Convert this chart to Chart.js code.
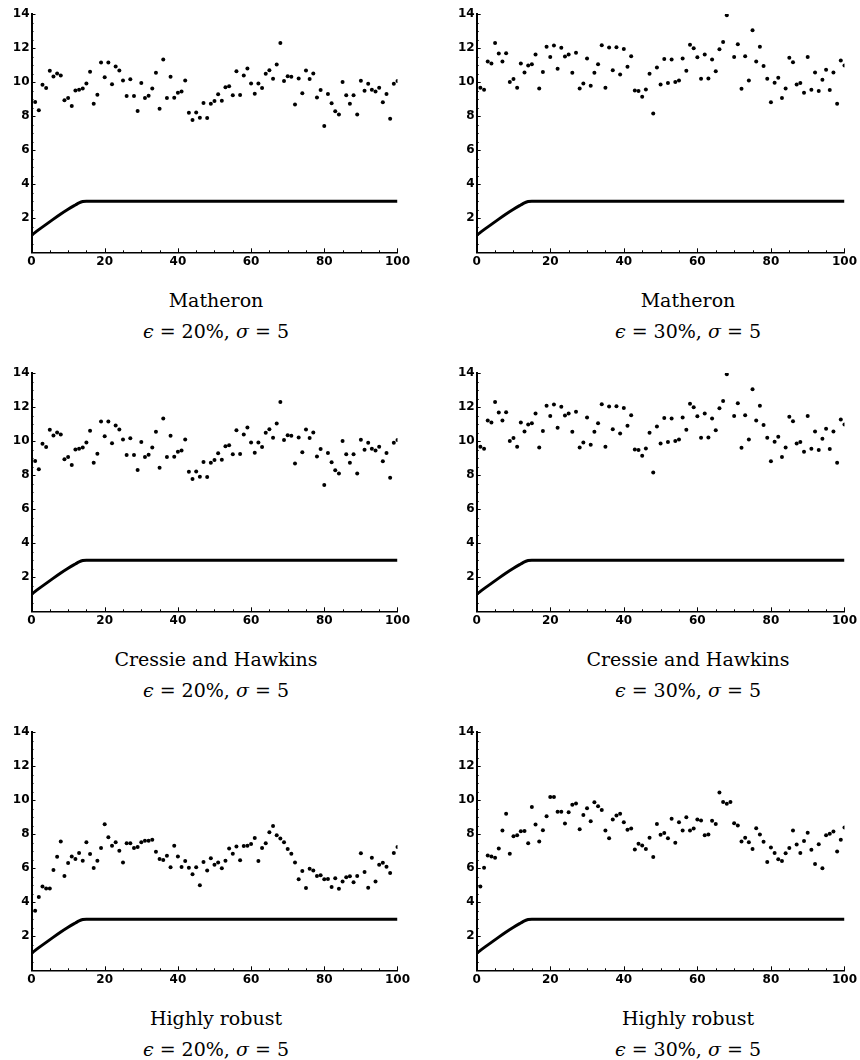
<!DOCTYPE html>
<html>
<head>
<meta charset="utf-8">
<script src="https://cdn.jsdelivr.net/npm/chart.js@4.4.1/dist/chart.umd.min.js"></script>
<style>
body { margin: 0; background: #fff; width: 860px; height: 1060px; position: relative; overflow: hidden; }
canvas { position: absolute; }
.cap { position: absolute; width: 420px; text-align: center; font-family: "DejaVu Serif", serif; font-size: 19px; line-height: 31px; color: #000; }
</style>
</head>
<body>
<script>
// lag values (x) and the fitted variogram curve
const lags = Array.from({length: 100}, (_, i) => i + 1);
const curveLag = [0, 2, 4, 6, 8, 10, 12, 13, 14, 15, 100];
const curveGamma = [1.0, 1.33, 1.64, 1.95, 2.25, 2.53, 2.78, 2.9, 2.98, 3.0, 3.0];

// empirical variogram estimates, one value per lag 1..100
const classic20 = [8.83, 8.34, 9.84, 9.65, 10.66, 10.33, 10.5, 10.39, 8.93, 9.06,
  8.59, 9.51, 9.55, 9.63, 9.92, 10.6, 8.73, 9.26, 11.15, 10.29,
  11.15, 9.88, 10.92, 10.68, 10.1, 9.18, 10.16, 9.18, 8.3, 9.94,
  9.06, 9.2, 9.63, 10.55, 8.44, 11.33, 9.06, 10.31, 9.08, 9.38,
  9.45, 10.1, 8.2, 7.77, 8.22, 7.91, 8.77, 7.89, 8.73, 8.89,
  9.28, 8.91, 9.69, 9.75, 9.22, 10.64, 9.24, 10.39, 10.8, 9.92,
  9.32, 9.92, 9.65, 10.49, 10.7, 10.2, 11.04, 12.3, 10.06, 10.35,
  10.31, 8.69, 10.21, 9.34, 10.68, 10.18, 10.51, 9.1, 9.53, 7.42,
  9.3, 8.75, 8.28, 8.09, 10.0, 9.22, 8.73, 9.22, 8.09, 10.08,
  9.49, 9.9, 9.55, 9.45, 9.67, 8.81, 9.3, 7.85, 9.9, 10.06];
const classic30 = [9.67, 9.55, 11.21, 11.09, 12.3, 11.68, 11.21, 11.7, 10.0, 10.18,
  9.67, 11.09, 10.57, 10.98, 11.05, 11.62, 9.63, 10.59, 12.07, 11.48,
  12.15, 10.78, 12.01, 11.5, 11.62, 10.55, 11.72, 9.63, 9.92, 11.39,
  9.79, 10.55, 11.05, 12.17, 9.67, 12.03, 10.7, 12.05, 10.45, 11.95,
  10.9, 11.52, 9.51, 9.47, 9.14, 9.57, 10.49, 8.16, 10.86, 9.86,
  11.35, 9.94, 11.33, 10.0, 10.1, 11.39, 10.66, 12.2, 11.99, 11.46,
  10.2, 11.62, 10.21, 11.33, 10.64, 11.93, 12.36, 13.93, null, 11.48,
  12.23, 9.61, 11.52, 10.1, 13.05, 11.21, 12.07, 10.94, 10.2, 8.81,
  9.96, 10.25, 9.06, 9.63, 11.43, 11.17, 9.86, 9.94, 9.38, 11.48,
  9.55, 10.57, 9.47, 10.14, 10.72, 9.53, 10.57, 8.73, 11.27, 10.98];
const robust20 = [3.5, 4.3, 4.92, 4.81, 4.81, 5.89, 6.67, 7.57, 5.54, 6.3,
  6.69, 6.54, 6.89, 6.44, 7.53, 6.83, 6.01, 6.44, 7.18, 8.58,
  7.82, 7.32, 7.53, 7.02, 6.34, 7.47, 7.47, 7.18, 7.24, 7.53,
  7.61, 7.61, 7.67, 6.96, 6.54, 6.48, 6.73, 6.05, 7.32, 6.69,
  6.07, 6.42, 6.03, 5.64, 6.05, 5.0, 6.36, 5.87, 6.59, 6.2,
  6.34, 5.99, 6.44, 7.16, 6.85, 7.28, 6.46, 7.3, 7.32, 7.42,
  7.77, 6.42, 7.18, 7.47, 8.11, 8.48, 7.94, 7.75, 7.53, 7.12,
  6.85, 6.34, 5.35, 5.84, 4.83, 5.97, 5.86, 5.54, 5.58, 5.35,
  5.37, 4.9, 5.41, 4.79, 5.21, 5.47, 5.52, 5.17, 5.54, 6.87,
  5.78, 4.85, 6.61, 5.21, 6.2, 6.32, 6.09, 5.72, 6.89, 7.24];
const robust30 = [4.93, 6.03, 6.75, 6.69, 6.61, 7.16, 8.21, 9.19, 6.84, 7.88,
  7.94, 8.17, 8.19, 7.47, 9.6, 8.57, 7.57, 8.23, 9.05, 10.18,
  10.18, 9.32, 9.32, 8.62, 9.28, 9.73, 9.8, 8.29, 9.13, 9.52,
  8.76, 9.87, 9.64, 9.42, 8.21, 7.76, 8.86, 9.09, 9.19, 8.7,
  8.25, 8.33, 7.1, 7.43, 7.33, 7.12, 7.78, 6.65, 8.6, 7.96,
  8.07, 7.76, 8.9, 7.49, 8.7, 8.21, 8.99, 8.21, 8.33, 8.86,
  8.8, 7.93, 7.98, 8.78, 8.59, 10.44, 9.89, 9.78, 9.89, 8.64,
  8.5, 7.57, 7.78, 7.53, 7.12, 8.35, 7.98, 7.55, 6.36, 7.22,
  6.89, 6.52, 6.42, 6.87, 7.18, 8.21, 7.39, 6.89, 7.59, 8.08,
  7.08, 6.24, 7.41, 5.99, 7.94, 8.02, 8.15, 6.98, 7.67, 8.39];

const methods = ['Matheron', 'Cressie and Hawkins', 'Highly robust'];
const contamination = ['20%', '30%'];
const sigma = 5;

const panels = [
  {row: 0, col: 0, values: classic20},
  {row: 0, col: 1, values: classic30},
  {row: 1, col: 0, values: classic20},
  {row: 1, col: 1, values: classic30},
  {row: 2, col: 0, values: robust20},
  {row: 2, col: 1, values: robust30}
];

// layout
const colLeft = [0, 445];
const colAxisW = [31.5, 31.7];
const colWidth = [412, 414];
const colPadRight = [12.5, 12.3];
const colCapX = [6, 478];
const rowTop = [0, 359, 718];
const capTop = [285, 644, 1003];

const innerTicks = {
  id: 'innerTicks',
  afterDraw(chart) {
    const ctx = chart.ctx, xs = chart.scales.x, ys = chart.scales.y;
    const x0 = xs.getPixelForValue(0), y0 = ys.getPixelForValue(0);
    ctx.save();
    ctx.strokeStyle = '#000';
    ctx.lineWidth = 1;
    for (let v = 0; v <= 100; v += 5) {
      const px = Math.round(xs.getPixelForValue(v)) + 0.5;
      const len = v % 20 === 0 ? 4 : 2;
      ctx.beginPath(); ctx.moveTo(px, y0); ctx.lineTo(px, y0 - len); ctx.stroke();
    }
    for (let v = 0; v <= 14; v += 0.5) {
      const py = Math.round(ys.getPixelForValue(v)) + 0.5;
      const len = v % 2 === 0 ? 4 : 2;
      ctx.beginPath(); ctx.moveTo(x0, py); ctx.lineTo(x0 + len, py); ctx.stroke();
    }
    ctx.restore();
  }
};

panels.forEach(p => {
  const cv = document.createElement('canvas');
  cv.width = colWidth[p.col];
  cv.height = 275;
  cv.style.left = colLeft[p.col] + 'px';
  cv.style.top = rowTop[p.row] + 'px';
  document.body.appendChild(cv);

  const cap = document.createElement('div');
  cap.className = 'cap';
  cap.style.left = colCapX[p.col] + 'px';
  cap.style.top = capTop[p.row] + 'px';
  cap.innerHTML = methods[p.row] + '<br><i>ϵ</i> = ' + contamination[p.col] + ', <i>σ</i> = ' + sigma;
  document.body.appendChild(cap);

  const pts = lags.map((l, i) => ({x: l, y: p.values[i]}));
  const curve = curveLag.map((l, i) => ({x: l, y: curveGamma[i]}));

  new Chart(cv, {
    type: 'scatter',
    data: {
      datasets: [{
        data: pts,
        pointRadius: 2,
        pointBackgroundColor: '#000',
        pointBorderWidth: 0,
        showLine: false
      }, {
        data: curve,
        showLine: true,
        borderColor: '#000',
        borderWidth: 3,
        pointRadius: 0,
        cubicInterpolationMode: 'monotone'
      }]
    },
    options: {
      responsive: false,
      animation: false,
      devicePixelRatio: 1,
      layout: {padding: {top: 14, right: colPadRight[p.col], left: 0, bottom: 0}},
      plugins: {legend: {display: false}, tooltip: {enabled: false}},
      scales: {
        x: {
          type: 'linear', min: 0, max: 100,
          afterFit: s => { s.height = 22.7; },
          grid: {display: true, drawOnChartArea: false, drawTicks: false},
          border: {display: true, color: '#000', width: 1.5},
          ticks: {stepSize: 20, padding: 2, color: '#000', font: {family: 'DejaVu Sans', size: 12, weight: 'bold'}, maxRotation: 0}
        },
        y: {
          type: 'linear', min: 0, max: 14,
          afterFit: s => { s.width = colAxisW[p.col]; },
          grid: {display: true, drawOnChartArea: false, drawTicks: false},
          border: {display: true, color: '#000', width: 2},
          ticks: {stepSize: 2, padding: 2, color: '#000', font: {family: 'DejaVu Sans', size: 12, weight: 'bold'},
            callback: v => v === 0 ? '' : v}
        }
      }
    },
    plugins: [innerTicks]
  });
});
</script>
</body>
</html>
